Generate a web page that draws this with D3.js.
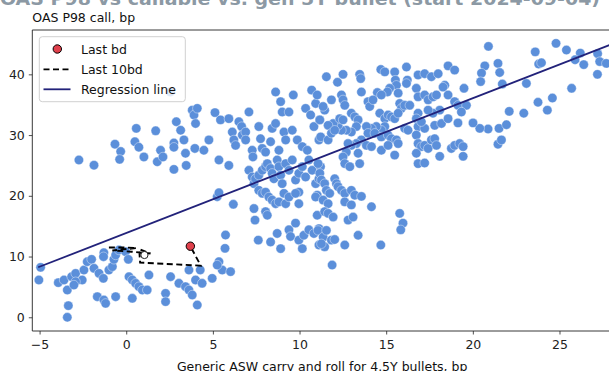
<!DOCTYPE html>
<html><head><meta charset="utf-8">
<script src="https://cdn.jsdelivr.net/npm/d3@7"></script>
<style>body{margin:0;background:#fff}svg{display:block;font-family:"DejaVu Sans",sans-serif}</style>
</head><body><svg id="c" width="609" height="371"></svg>
<script>
const titleText = "OAS P98 vs callable vs. gen 5Y bullet (start 2024-09-04)";
const yLabel = "OAS P98 call, bp";
const xLabel = "Generic ASW carry and roll for 4.5Y bullets, bp";
const xTicks = [-5, 0, 5, 10, 15, 20, 25];
const yTicks = [0, 10, 20, 30, 40];
const legendLabels = ["Last bd", "Last 10bd", "Regression line"];
// scatter: [carry, oas]
const history = [
[-4.94,8.22],[-5.04,6.14],[-3.92,5.7],[-3.4,4.49],[-3.34,1.91],[-3.4,0],[-3.59,6.14],[-3.15,6.68],[-2.92,7.23],[-2.54,6.14],
[-2.44,7.78],[-2.25,9.15],[-2.0,9.54],[-1.86,8.06],[-1.57,7.23],[-1.29,10.63],[-1.32,6.41],[-1.0,7.78],[-0.8,8.33],[-0.71,9.54],
[-0.61,10.25],[-0.42,11.07],[-0.04,10.8],[0.12,9.54],[-2.92,5.86],[-3.02,5.31],[-1.67,3.39],[-1.29,2.84],[-1.19,2.29],[-0.61,3.39],
[0.16,6.68],[0.35,6.14],[0.54,5.59],[0.73,5.04],[0.93,4.49],[1.21,4.49],[1.31,6.96],[0.35,3.12],[2.27,3.94],[2.27,2.57],
[2.56,6.68],[3.04,5.59],[3.42,5.04],[3.62,4.49],[3.81,3.67],[4.1,2.02],[3.62,7.78],[4.0,6.14],[4.38,5.59],[4.96,6.41],
[5.35,9.15],[5.54,7.78],[5.7,11.35],[5.73,13.54],[6.02,7.51],[5.25,8.6],[4.27,7.79],[-1.31,9.97],
[5.25,19.85],[5.35,20.5],[6.18,18.6],[-2.73,25.9],[-1.86,25.04],[-0.65,28.5],[-0.32,27.3],[-0.38,26.0],[0.58,31.1],[0.5,28.9],
[0.73,28.0],[1.02,26.4],[1.7,30.7],[1.79,25.6],[1.98,27.5],[2.12,26.4],[2.75,28.7],[2.75,28.0],[2.75,24.35],[2.89,32.2],
[3.14,30.8],[3.33,29.2],[3.42,27.0],[3.46,25.0],[3.81,34.1],[3.91,33.3],[4.0,31.9],[3.96,27.8],[4.1,34.4],[4.48,27.5],
[4.77,29.2],[5.12,33.7],[5.35,25.9],[5.44,32.5],[5.92,32.7],[5.92,25.0],[6.12,30.5],[6.21,29.2],[6.31,28.3],[6.5,32.2],
[6.66,31.4],[6.7,30.0],[6.89,30.5],[6.89,29.2],[7.08,33.8],[7.27,27.5],[7.31,26.4],[7.65,31.4],[7.75,29.4],[7.85,27.8],
[8.04,27.2],[8.33,28.9],[8.42,31.1],[8.62,37.1],[8.62,31.9],[8.81,27.5],[8.91,35.5],[9.0,33.8],[9.1,30.5],[9.2,29.2],
[9.39,33.8],[9.58,30.8],[9.64,36.6],[9.87,29.2],[10.16,28.1],[10.35,34.4],[10.45,27.5],[10.64,33.3],[10.7,37.4],[10.83,31.4],
[10.93,35.2],[11.02,36.6],[11.12,29.2],[11.16,32.5],[2.54,37.1],
[7.08,24.2],[7.27,23.1],[7.37,22.0],[7.46,22.8],[7.65,23.4],[7.85,24.2],[8.04,24.8],[8.14,25.3],[8.33,24.5],[8.42,23.7],
[8.52,22.8],[8.71,25.9],[8.81,24.8],[8.91,23.4],[9.0,22.0],[9.2,25.3],[9.39,24.2],[9.58,25.9],[9.77,22.6],[9.96,23.7],
[9.96,20.6],[10.16,24.8],[10.35,23.1],[10.54,25.9],[10.73,24.2],[10.93,22.0],[11.02,20.1],[11.12,22.8],[11.21,24.8],[7.65,20.9],
[7.85,20.4],[8.04,20.6],[8.23,19.8],[8.42,19.3],[8.62,18.7],[8.81,19.0],[9.1,20.4],[9.2,18.7],[9.39,19.8],[9.77,20.4],
[9.96,18.7],[10.93,19.8],[7.37,17.9],[7.43,16.0],[8.04,17.4],[8.14,16.8],[8.71,13.8],[9.39,14.4],[9.48,13.3],[9.77,15.5],
[9.96,12.7],[10.25,13.5],[10.54,14.4],[10.83,13.8],[11.12,14.6],[7.62,12.7],[8.33,12.4],[8.91,11.3],[10.16,11.3],[11.12,11.9],
[11.02,16.8],
[20.9,44.6],[24.8,45.1],[25.4,44.0],[26.2,43.5],[25.9,42.4],[26.4,41.6],[23.6,43.7],[23.8,41.7],[23.96,41.9],[27.2,43.4],
[27.32,42.1],[27.7,41.8],[27.19,40.0],[25.7,37.7],[21.7,38.4],[21.45,41.8],[21.55,40.3],[20.69,41.4],[20.5,40.2],[20.45,38.8],
[23.09,38.5],[22.1,33.9],[22.94,33.6],[23.76,35.4],[24.3,34.1],[24.59,36.1],[21.51,31.1],[21.94,31.7],[21.45,28.5],[21.65,29.2],
[20.88,31.0],[20.4,31.1],[20.01,32.0],
[11.55,39.6],[12.19,38.7],[12.51,40.0],[13.47,40.0],[13.53,39.3],[13.57,37.1],[14.69,40.8],[14.92,40.4],[15.49,40.4],[16.17,41.2],
[16.22,39.05],[16.17,38.5],[15.53,39.05],[15.59,38.2],[15.2,37.7],[15.07,37.1],[14.49,37.0],[14.72,36.6],[15.69,36.9],[15.78,35.2],
[15.88,34.4],[16.07,34.9],[16.36,34.9],[16.84,39.9],[17.22,40.1],[17.61,39.6],[18.0,40.1],[18.38,38.2],[18.28,37.9],[18.57,41.4],
[18.95,40.7],[19.49,37.7],[16.74,37.7],[16.84,36.3],[17.22,36.6],[17.42,35.8],[17.7,36.3],[17.9,36.6],[18.57,36.6],[18.95,35.5],
[19.14,34.9],[19.63,34.9],[19.34,33.8],[18.09,34.1],[17.7,33.6],[17.42,34.1],[16.84,33.6],[16.74,32.7],[16.84,31.4],[17.22,31.1],
[17.03,32.2],[17.8,31.6],[18.19,31.9],[18.57,32.7],[19.14,32.0],[11.84,35.8],[12.42,36.6],[12.51,35.8],[12.61,34.9],[12.99,33.6],
[13.19,33.0],[13.38,32.5],[13.28,31.4],[12.99,30.5],[12.7,30.8],[12.42,30.8],[12.22,31.6],[11.94,31.9],[11.65,31.6],[11.45,34.1],
[11.36,34.7],[11.17,32.5],[11.22,29.7],[11.65,29.2],[11.84,30.3],[12.03,30.8],[12.32,32.7],[12.51,32.5],[13.95,35.5],[14.05,34.7],
[14.24,35.8],[14.63,33.6],[14.92,32.7],[15.11,33.3],[15.3,33.0],[15.49,32.7],[15.69,33.6],[14.92,31.4],[14.72,30.8],[14.43,31.4],
[14.15,31.1],[13.86,31.4],[13.95,30.3],[14.34,30.3],[14.72,29.7],[15.11,30.0],[15.3,29.4],[15.59,29.2],[15.69,28.6],[13.57,29.2],
[13.28,28.6],[12.99,28.3],[12.8,28.6],[12.7,27.2],[12.51,26.4],[12.61,25.3],[12.9,24.8],[13.47,25.3],[13.38,27.0],[13.86,28.3],
[14.15,28.1],[14.72,27.5],[15.49,26.7],[15.11,28.3],[16.07,31.1],[16.26,30.8],[16.74,30.0],[16.84,28.6],[17.03,28.1],[17.22,28.3],
[17.42,27.8],[17.61,29.2],[17.8,29.4],[17.9,28.3],[18.09,26.5],[16.74,27.0],[16.84,25.3],[17.22,25.4],[18.76,27.8],[18.95,28.3],
[19.24,28.6],[19.44,28.1],[19.44,26.5],
[11.07,25.3],[11.17,23.7],[11.26,22.6],[11.45,22.0],[11.55,20.9],[11.74,20.4],[12.03,22.8],[12.13,22.0],[12.22,21.5],[12.42,20.9],
[12.61,20.4],[12.99,20.9],[13.19,20.1],[13.57,19.9],[12.61,19.0],[12.99,18.5],[11.36,19.3],[11.65,18.7],[11.45,17.4],[11.65,17.1],
[11.94,16.5],[12.8,16.0],[13.09,16.5],[14.15,18.2],[15.78,17.1],[15.97,15.5],[15.84,14.4],[11.07,14.3],[11.36,13.2],[11.55,14.3],
[11.45,11.6],[11.26,12.1],[11.84,12.7],[12.03,12.8],[12.61,11.9],[13.38,13.5],[14.69,11.9],[11.88,8.6]
];
const last10X = [-1.0, -0.2, 0.6, -0.8, 0.3, 1.4, 0.75, 0.8, 4.3, 3.7];
const last10Y = [11.5, 11.5, 11.4, 11.0, 10.8, 10.5, 11.2, 9.0, 8.5, 11.7];
const markerPoint = [1.05, 10.25];
const lastBd = [3.7, 11.7];
const regSlope = 1.11, regIntercept = 13.87, regRange = [-5.08, 28.5];

const svg = d3.select("#c");
const L = 32.3, R = 612, T = 30, B = 331;
const x = d3.scaleLinear().domain([-5.42, 28.03]).range([L, R]);
const y = d3.scaleLinear().domain([-2.26, 47.3]).range([B, T]);

svg.append("defs").append("clipPath").attr("id","clip").append("rect")
  .attr("x",L).attr("y",T).attr("width",R-L).attr("height",B-T);

// title (partially cut off at top, as in the reference)
svg.append("text").attr("x",300).attr("y",4.5).attr("text-anchor","middle")
  .attr("font-size",17.5).attr("font-weight","bold").attr("fill","#8c99a4")
  .attr("textLength",600).attr("lengthAdjust","spacingAndGlyphs").text(titleText);

const g = svg.append("g").attr("clip-path","url(#clip)");
g.selectAll("circle.pt").data(history).join("circle").attr("class","pt")
  .attr("cx",d=>x(d[0])).attr("cy",d=>y(d[1])).attr("r",4.7)
  .attr("fill","#5b8fda").attr("stroke","#ffffff").attr("stroke-width",0.4);

g.append("line").attr("x1",x(regRange[0])).attr("y1",y(regIntercept+regSlope*regRange[0]))
  .attr("x2",x(regRange[1])).attr("y2",y(regIntercept+regSlope*regRange[1]))
  .attr("stroke","#22227a").attr("stroke-width",1.8);

const line = d3.line().x(d=>x(d[0])).y(d=>y(d[1]));
g.append("path").datum(last10X.map((v,i)=>[v,last10Y[i]])).attr("d",line)
  .attr("fill","none").attr("stroke","#000").attr("stroke-width",1.9).attr("stroke-dasharray","6,3.5");
g.append("circle").attr("cx",x(markerPoint[0])).attr("cy",y(markerPoint[1])).attr("r",3.6)
  .attr("fill","#fff").attr("stroke","#222").attr("stroke-width",1);
g.append("circle").attr("cx",x(lastBd[0])).attr("cy",y(lastBd[1])).attr("r",4.2)
  .attr("fill","#e0404c").attr("stroke","#000").attr("stroke-width",1);

// axes
const xa = svg.append("g").attr("transform",`translate(0,${B})`)
  .call(d3.axisBottom(x).tickValues(xTicks).tickSize(3.5).tickPadding(5.5).tickFormat(d3.format("d")));
const ya = svg.append("g").attr("transform",`translate(${L},0)`)
  .call(d3.axisLeft(y).tickValues(yTicks).tickSize(3.5).tickPadding(4).tickFormat(d3.format("d")));
[xa,ya].forEach(a=>{a.select(".domain").remove();
  a.selectAll("text").attr("font-size",12.5).attr("font-family","DejaVu Sans").attr("fill","#222");
  a.selectAll("line").attr("stroke","#222").attr("stroke-width",0.8);});
// spines
svg.append("line").attr("x1",L).attr("x2",L).attr("y1",T).attr("y2",B).attr("stroke","#222").attr("stroke-width",0.9);
svg.append("line").attr("x1",L).attr("x2",R).attr("y1",B).attr("y2",B).attr("stroke","#222").attr("stroke-width",0.9);
svg.append("line").attr("x1",L).attr("x2",R).attr("y1",T).attr("y2",T).attr("stroke","#222").attr("stroke-width",0.9);

svg.append("text").attr("x",L).attr("y",22).attr("font-size",12.5).attr("fill","#111").text(yLabel);
svg.append("text").attr("x",(L+R)/2).attr("y",370.5).attr("text-anchor","middle").attr("font-size",12.5).attr("fill","#111").text(xLabel);

// legend
const lg = svg.append("g");
lg.append("rect").attr("x",39.3).attr("y",36.7).attr("width",146).attr("height",65).attr("rx",3)
  .attr("fill","#fff").attr("fill-opacity",0.8).attr("stroke","#d0d0d0").attr("stroke-width",1);
const rows = [49, 69.3, 89.3];
lg.append("circle").attr("cx",57.3).attr("cy",rows[0]).attr("r",4.2).attr("fill","#e0404c").attr("stroke","#000").attr("stroke-width",1);
lg.append("line").attr("x1",43.5).attr("x2",70.5).attr("y1",rows[1]).attr("y2",rows[1]).attr("stroke","#000").attr("stroke-width",1.8).attr("stroke-dasharray","6,3.5");
lg.append("line").attr("x1",43.5).attr("x2",70.5).attr("y1",rows[2]).attr("y2",rows[2]).attr("stroke","#22227a").attr("stroke-width",1.8);
legendLabels.forEach((t,i)=>lg.append("text").attr("x",81).attr("y",rows[i]+4.5).attr("font-size",12.5).attr("fill","#111").text(t));
</script></body></html>
